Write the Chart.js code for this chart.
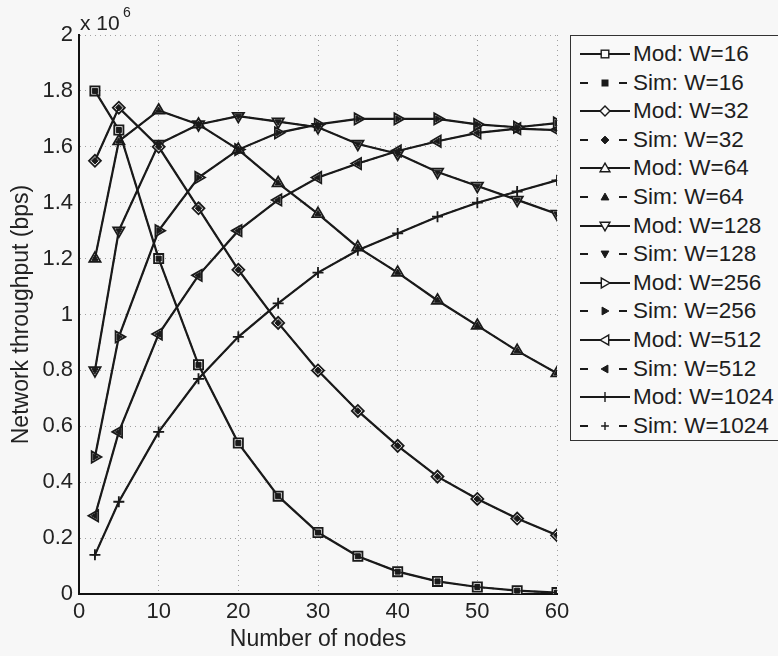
<!DOCTYPE html>
<html>
<head>
<meta charset="utf-8">
<script src="https://cdn.jsdelivr.net/npm/chart.js@4.4.1/dist/chart.umd.min.js"></script>
<style>
  html, body { margin:0; padding:0; background:#f7f7f7; overflow:hidden; }
  #wrap { position:relative; width:778px; height:656px; font-family:"Liberation Sans", Arial, sans-serif; color:#222; }
  #c { position:absolute; left:0; top:0; }
  #mult { position:absolute; left:80px; top:11px; font-size:21px; line-height:24px; white-space:nowrap; }
  #mult6 { position:absolute; left:123px; top:4px; font-size:14px; line-height:16px; }
  #legend { position:absolute; left:570px; top:35px; width:230px; height:406px; border:1px solid #333; background:#f9f9f9; box-sizing:border-box; }
  .row { position:absolute; left:0; height:28px; display:flex; align-items:center; font-size:22.5px; white-space:nowrap; color:#1e1e1e; }
  .row svg { width:62px; height:28px; flex:none; }
</style>
</head>
<body>
<div id="wrap">
  <canvas id="c" width="778" height="656"></canvas>
  <div id="mult">x 10</div><div id="mult6">6</div>
  <div id="legend"></div>
</div>
<script>
// ---- data (throughput in units of 10^6 bps) ----
const nodes = [2, 5, 10, 15, 20, 25, 30, 35, 40, 45, 50, 55, 60];
const xTicks = [0, 10, 20, 30, 40, 50, 60];
const yTicks = [0, 0.2, 0.4, 0.6, 0.8, 1, 1.2, 1.4, 1.6, 1.8, 2];
const windowSizes = ['16', '32', '64', '128', '256', '512', '1024'];

const modW16   = [1.80, 1.66, 1.20, 0.82, 0.54, 0.35, 0.22, 0.135, 0.08, 0.045, 0.025, 0.012, 0.005];
const simW16   = [1.80, 1.66, 1.20, 0.82, 0.54, 0.35, 0.22, 0.135, 0.08, 0.045, 0.025, 0.012, 0.005];
const modW32   = [1.55, 1.74, 1.60, 1.38, 1.16, 0.97, 0.80, 0.655, 0.53, 0.42, 0.34, 0.27, 0.21];
const simW32   = [1.55, 1.74, 1.60, 1.38, 1.16, 0.97, 0.80, 0.655, 0.53, 0.42, 0.34, 0.27, 0.21];
const modW64   = [1.20, 1.62, 1.73, 1.68, 1.59, 1.47, 1.36, 1.24, 1.15, 1.05, 0.96, 0.87, 0.79];
const simW64   = [1.20, 1.62, 1.73, 1.68, 1.59, 1.47, 1.36, 1.24, 1.15, 1.05, 0.96, 0.87, 0.79];
const modW128  = [0.80, 1.30, 1.61, 1.68, 1.71, 1.69, 1.67, 1.61, 1.575, 1.51, 1.46, 1.41, 1.36];
const simW128  = [0.80, 1.30, 1.61, 1.68, 1.71, 1.69, 1.67, 1.61, 1.575, 1.51, 1.46, 1.41, 1.36];
const modW256  = [0.49, 0.92, 1.30, 1.49, 1.59, 1.65, 1.68, 1.70, 1.70, 1.70, 1.68, 1.67, 1.685];
const simW256  = [0.49, 0.92, 1.30, 1.49, 1.59, 1.65, 1.68, 1.70, 1.70, 1.70, 1.68, 1.67, 1.685];
const modW512  = [0.28, 0.58, 0.93, 1.14, 1.30, 1.41, 1.49, 1.54, 1.585, 1.62, 1.65, 1.665, 1.66];
const simW512  = [0.28, 0.58, 0.93, 1.14, 1.30, 1.41, 1.49, 1.54, 1.585, 1.62, 1.65, 1.665, 1.66];
const modW1024 = [0.14, 0.33, 0.58, 0.77, 0.92, 1.04, 1.15, 1.23, 1.29, 1.35, 1.40, 1.44, 1.48];
const simW1024 = [0.14, 0.33, 0.58, 0.77, 0.92, 1.04, 1.15, 1.23, 1.29, 1.35, 1.40, 1.44, 1.48];

const modSeries = [modW16, modW32, modW64, modW128, modW256, modW512, modW1024];
const simSeries = [simW16, simW32, simW64, simW128, simW256, simW512, simW1024];

// ---- styles ----
const markers = [
  {style:'rect', rot:0, r:6.5}, {style:'rectRot', rot:0, r:6}, {style:'triangle', rot:0, r:6.5},
  {style:'triangle', rot:180, r:6.5}, {style:'triangle', rot:90, r:6.5}, {style:'triangle', rot:270, r:6.5},
  {style:'cross', rot:0, r:5.5}
];
const INK = '#1a1a1a';

const datasets = [];
windowSizes.forEach((w, i) => {
  datasets.push({
    label: 'Mod: W=' + w,
    order: 2,
    data: nodes.map((x, k) => ({x, y: modSeries[i][k]})),
    borderColor: INK, borderWidth: 2.2,
    pointStyle: markers[i].style, pointRotation: markers[i].rot,
    pointRadius: markers[i].r,
    pointBackgroundColor: 'rgba(250,250,250,0.9)', pointBorderColor: INK, pointBorderWidth: 1.8,
    tension: 0, fill: false
  });
  datasets.push({
    label: 'Sim: W=' + w,
    order: 1,
    data: nodes.map((x, k) => ({x, y: simSeries[i][k]})),
    borderColor: INK, borderWidth: 1.4, borderDash: [5, 4],
    pointStyle: markers[i].style, pointRotation: markers[i].rot,
    pointRadius: markers[i].r * 0.55, pointBackgroundColor: INK, pointBorderColor: INK, pointBorderWidth: 1,
    tension: 0, fill: false
  });
});

const tickFont = {family: '"Liberation Sans", Arial, sans-serif', size: 22};
const titleFont = {family: '"Liberation Sans", Arial, sans-serif', size: 23};

new Chart(document.getElementById('c'), {
  type: 'line',
  data: {datasets},
  options: {
    responsive: false, animation: false,
    layout: {padding: {top: 35, right: 221, bottom: 0, left: 0}},
    plugins: {legend: {display: false}, tooltip: {enabled: false}},
    scales: {
      x: {
        type: 'linear', min: 0, max: 60,
        afterBuildTicks: s => { s.ticks = xTicks.map(v => ({value: v})); },
        afterFit: s => { s.height = 62; },
        ticks: {font: tickFont, color: '#222', padding: 5, maxRotation: 0},
        grid: {color: '#a0a0a0', lineWidth: 1, drawTicks: false},
        border: {color: '#111', width: 2, dash: [1, 4]},
        title: {display: true, text: 'Number of nodes', font: titleFont, color: '#222', padding: {top: 0, bottom: 3}}
      },
      y: {
        type: 'linear', min: 0, max: 2,
        afterBuildTicks: s => { s.ticks = yTicks.map(v => ({value: v})); },
        afterFit: s => { s.width = 79; },
        ticks: {font: tickFont, color: '#222', padding: 6, callback: v => String(+v.toFixed(1))},
        grid: {color: '#a0a0a0', lineWidth: 1, drawTicks: false},
        border: {color: '#111', width: 2, dash: [1, 4]},
        title: {display: true, text: 'Network throughput (bps)', font: titleFont, color: '#222', padding: {top: 8, bottom: 0}}
      }
    }
  }
});

// ---- HTML legend ----
function markerSVG(m, cx, cy, filled) {
  const r = filled ? 3 : 3.8;
  const fill = filled ? INK : '#f9f9f9';
  const sw = filled ? 1 : 1.4;
  let shape;
  if (m.style === 'rect') {
    shape = `<rect x="${cx - r}" y="${cy - r}" width="${2 * r}" height="${2 * r}"/>`;
  } else if (m.style === 'rectRot') {
    const q = r * 1.3;
    shape = `<polygon points="${cx},${cy - q} ${cx + q},${cy} ${cx},${cy + q} ${cx - q},${cy}"/>`;
  } else if (m.style === 'cross') {
    const q = r * 1.3;
    return `<path d="M${cx - q} ${cy}H${cx + q}M${cx} ${cy - q}V${cy + q}" stroke="${INK}" stroke-width="1.4"/>`;
  } else {
    const q = r * 1.3;
    shape = `<polygon transform="rotate(${m.rot} ${cx} ${cy})" points="${cx},${cy - q} ${cx + q},${cy + q * 0.75} ${cx - q},${cy + q * 0.75}"/>`;
  }
  return `<g fill="${fill}" stroke="${INK}" stroke-width="${sw}">${shape}</g>`;
}
const legend = document.getElementById('legend');
datasets.forEach((ds, j) => {
  const i = Math.floor(j / 2), sim = j % 2 === 1;
  const cy = 14, cx = 34;
  const line = sim
    ? `<path d="M9 ${cy}H17M48 ${cy}H56" stroke="${INK}" stroke-width="1.8"/>`
    : `<path d="M9 ${cy}H59" stroke="${INK}" stroke-width="2"/>`;
  const row = document.createElement('div');
  row.className = 'row';
  row.style.top = (4 + j * 28.6) + 'px';
  row.innerHTML = `<svg viewBox="0 0 62 28">${line}${markerSVG(markers[i], cx, cy, sim)}</svg><span>${ds.label}</span>`;
  legend.appendChild(row);
});
</script>
</body>
</html>
